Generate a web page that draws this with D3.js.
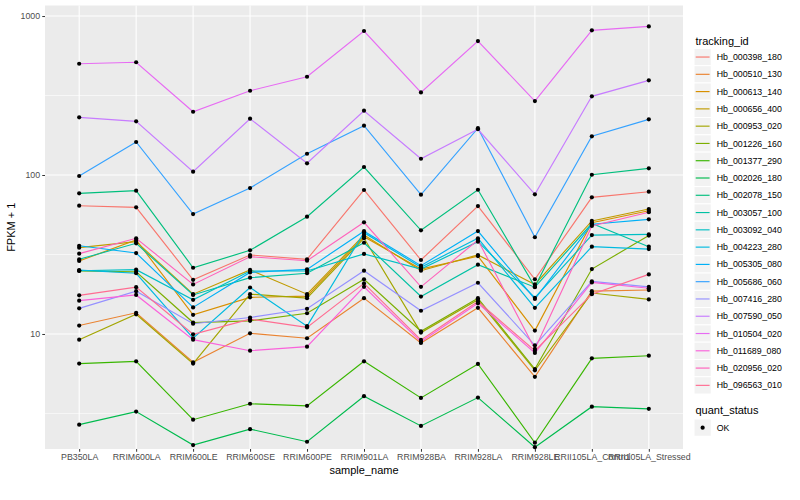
<!DOCTYPE html>
<html><head><meta charset="utf-8">
<script src="https://cdn.jsdelivr.net/npm/d3@7"></script>
<style>
body{margin:0;background:#fff}
text{font-family:"Liberation Sans",Arial,Helvetica,sans-serif}
</style>
</head><body>
<svg id="chart" width="800" height="500"></svg>
<script>
// ---------- data ----------
const samples = ["PB350LA","RRIM600LA","RRIM600LE","RRIM600SE","RRIM600PE","RRIM901LA","RRIM928BA","RRIM928LA","RRIM928LE","RRII105LA_Control","RRII105LA_Stressed"];
const trackingIds = ["Hb_000398_180","Hb_000510_130","Hb_000613_140","Hb_000656_400","Hb_000953_020","Hb_001226_160","Hb_001377_290","Hb_002026_180","Hb_002078_150","Hb_003057_100","Hb_003092_040","Hb_004223_280","Hb_005305_080","Hb_005686_060","Hb_007416_280","Hb_007590_050","Hb_010504_020","Hb_011689_080","Hb_020956_020","Hb_096563_010"];
const hb_000398_180 = [64.1, 62.6, 21.9, 31.4, 29.5, 80.5, 29.2, 63.8, 22.1, 72.4, 78.5];
const hb_000510_130 = [11.3, 13.6, 6.64, 10.1, 9.40, 16.8, 8.78, 14.6, 5.38, 18.6, 18.9];
const hb_000613_140 = [28.8, 39.0, 13.2, 17.0, 17.3, 40.9, 25.6, 30.9, 10.5, 50.1, 59.6];
const hb_000656_400 = [34.9, 38.1, 17.8, 25.3, 17.8, 41.9, 25.0, 31.4, 20.5, 51.4, 61.1];
const hb_000953_020 = [9.21, 13.3, 6.51, 17.8, 16.8, 40.0, 10.2, 16.4, 5.91, 18.1, 16.5];
const hb_001226_160 = [24.9, 24.6, 11.8, 12.1, 13.5, 22.1, 10.4, 16.8, 6.02, 25.6, 41.6];
const hb_001377_290 = [6.51, 6.73, 2.89, 3.64, 3.53, 6.73, 3.96, 6.48, 2.07, 7.03, 7.30];
const hb_002026_180 = [2.69, 3.25, 2.00, 2.52, 2.10, 4.06, 2.64, 3.98, 1.94, 3.49, 3.38];
const hb_002078_150 = [76.7, 79.7, 26.1, 33.6, 54.7, 112.3, 44.9, 80.8, 19.8, 100.4, 110.2];
const hb_003057_100 = [29.5, 37.2, 17.6, 22.6, 24.1, 37.5, 17.2, 27.3, 19.7, 49.5, 35.4];
const hb_003092_040 = [25.0, 25.4, 16.4, 24.9, 24.9, 31.9, 25.6, 38.1, 16.9, 41.9, 42.3];
const hb_004223_280 = [25.2, 24.1, 9.40, 19.6, 11.2, 43.4, 26.3, 40.0, 14.6, 35.4, 34.2];
const hb_005305_080 = [35.9, 32.3, 14.7, 24.4, 25.5, 44.3, 26.9, 44.4, 16.6, 49.0, 52.6];
const hb_005686_060 = [98.6, 161.3, 56.8, 82.8, 136.1, 204.2, 75.2, 197, 40.6, 175.2, 224];
const hb_007416_280 = [14.5, 18.6, 11.6, 12.7, 14.4, 25.0, 14.0, 21.0, 8.49, 21.4, 19.8];
const hb_007590_050 = [230.6, 217.6, 104.9, 226, 118.5, 253.8, 126.6, 194, 75.6, 312.6, 394];
const hb_010504_020 = [501, 512, 250, 339, 415, 805, 331, 696, 292, 813, 861];
const hb_011689_080 = [16.2, 17.6, 9.21, 7.85, 8.32, 19.8, 8.95, 15.6, 7.60, 21.1, 19.4];
const hb_020956_020 = [32.0, 40.0, 20.5, 30.6, 28.9, 50.4, 19.8, 39.0, 8.05, 47.8, 58.3];
const hb_096563_010 = [17.5, 19.7, 9.96, 12.4, 11.0, 20.8, 9.17, 16.0, 7.85, 17.8, 23.7];
const yTicks = [10, 100, 1000];
const yTickLabels = ["10", "100", "1000"];
const yLimits = [1.89, 1165];
const quantLevels = ["OK"];

const seriesValues = [hb_000398_180, hb_000510_130, hb_000613_140, hb_000656_400, hb_000953_020,
  hb_001226_160, hb_001377_290, hb_002026_180, hb_002078_150, hb_003057_100, hb_003092_040,
  hb_004223_280, hb_005305_080, hb_005686_060, hb_007416_280, hb_007590_050, hb_010504_020,
  hb_011689_080, hb_020956_020, hb_096563_010];

// ---------- styles ----------
const palette = ["#F8766D","#EA8331","#D89000","#C09B00","#A3A500","#7CAE00","#39B600","#00BB4E","#00BF7D","#00C1A3","#00BFC4","#00BAE0","#00B0F6","#35A2FF","#9590FF","#C77CFF","#E76BF3","#FA62DB","#FF62BC","#FF6C91"];
const panel = {left: 45, right: 683, top: 5.5, bottom: 449};

const series = trackingIds.map((id, i) => ({id, values: samples.map((s, j) => ({sample: s, value: seriesValues[i][j]}))}));

const svg = d3.select("#chart");
svg.append("rect").attr("width", 800).attr("height", 500).attr("fill", "#fff");

const x = d3.scalePoint().domain(samples).range([panel.left, panel.right]).padding(0.6);
const y = d3.scaleLog().domain(yLimits).range([panel.bottom, panel.top]);
const color = d3.scaleOrdinal().domain(trackingIds).range(palette);

// panel
svg.append("rect").attr("x", panel.left).attr("y", panel.top)
  .attr("width", panel.right - panel.left).attr("height", panel.bottom - panel.top).attr("fill", "#EBEBEB");
const minor = [Math.pow(10, 0.5), Math.pow(10, 1.5), Math.pow(10, 2.5)];
svg.append("g").selectAll("line").data(minor).join("line")
  .attr("x1", panel.left).attr("x2", panel.right).attr("y1", d => y(d)).attr("y2", d => y(d))
  .attr("stroke", "#fff").attr("stroke-width", 0.6);
svg.append("g").selectAll("line").data(yTicks).join("line")
  .attr("x1", panel.left).attr("x2", panel.right).attr("y1", d => y(d)).attr("y2", d => y(d))
  .attr("stroke", "#fff").attr("stroke-width", 1.1);
svg.append("g").selectAll("line").data(samples).join("line")
  .attr("x1", d => x(d)).attr("x2", d => x(d)).attr("y1", panel.top).attr("y2", panel.bottom)
  .attr("stroke", "#fff").attr("stroke-width", 1.1);

// lines
const line = d3.line().x(d => x(d.sample)).y(d => y(d.value));
svg.append("g").selectAll("path").data(series).join("path")
  .attr("d", d => line(d.values)).attr("fill", "none")
  .attr("stroke", d => color(d.id)).attr("stroke-width", 1.15);
// points
svg.append("g").selectAll("circle").data(series.flatMap(s => s.values)).join("circle")
  .attr("cx", d => x(d.sample)).attr("cy", d => y(d.value)).attr("r", 2.1).attr("fill", "#000");

// axes
const yAxis = d3.axisLeft(y).tickValues(yTicks).tickFormat((d, i) => yTickLabels[i]).tickSize(2.75).tickPadding(2.2);
const gy = svg.append("g").attr("transform", `translate(${panel.left},0)`).call(yAxis);
gy.select(".domain").remove();
gy.selectAll("line").attr("stroke", "#333333").attr("stroke-width", 1);
gy.selectAll("text").attr("fill", "#4D4D4D").style("font-size", "8.8px");

const xAxis = d3.axisBottom(x).tickSize(2.75).tickPadding(2.2);
const gx = svg.append("g").attr("transform", `translate(0,${panel.bottom})`).call(xAxis);
gx.select(".domain").remove();
gx.selectAll("line").attr("stroke", "#333333").attr("stroke-width", 1);
gx.selectAll("text").attr("fill", "#4D4D4D").style("font-size", "8.8px");

// axis titles
svg.append("text").attr("x", (panel.left + panel.right) / 2).attr("y", 474)
  .attr("text-anchor", "middle").style("font-size", "11px").attr("fill", "#000").text("sample_name");
svg.append("text").attr("transform", `translate(15,${(panel.top + panel.bottom) / 2}) rotate(-90)`)
  .attr("text-anchor", "middle").style("font-size", "11px").attr("fill", "#000").text("FPKM + 1");

// legend: tracking_id
const lg = svg.append("g").attr("transform", "translate(694,0)");
lg.append("text").attr("x", 1.5).attr("y", 44.5).style("font-size", "11px").attr("fill", "#000").text("tracking_id");
const keyH = 17.28, key0 = 48.4;
const items = lg.selectAll("g.item").data(trackingIds).join("g").attr("class", "item")
  .attr("transform", (d, i) => `translate(0,${key0 + i * keyH})`);
items.append("rect").attr("width", keyH).attr("height", keyH).attr("fill", "#F2F2F2").attr("stroke", "#fff").attr("stroke-width", 1);
items.append("line").attr("x1", 1.7).attr("x2", keyH - 1.7).attr("y1", keyH / 2).attr("y2", keyH / 2)
  .attr("stroke", d => color(d)).attr("stroke-width", 1.15);
items.append("text").attr("x", keyH + 5.5).attr("y", keyH / 2).attr("dy", "0.35em")
  .style("font-size", "8.8px").attr("fill", "#000").text(d => d);

// legend: quant_status
const qg = svg.append("g").attr("transform", "translate(694,0)");
qg.append("text").attr("x", 1.5).attr("y", 414).style("font-size", "11px").attr("fill", "#000").text("quant_status");
const qItems = qg.selectAll("g.q").data(quantLevels).join("g").attr("class", "q")
  .attr("transform", (d, i) => `translate(0,${419 + i * keyH})`);
qItems.append("rect").attr("width", keyH).attr("height", keyH).attr("fill", "#F2F2F2").attr("stroke", "#fff");
qItems.append("circle").attr("cx", keyH / 2).attr("cy", keyH / 2).attr("r", 2.1).attr("fill", "#000");
qItems.append("text").attr("x", keyH + 5.5).attr("y", keyH / 2).attr("dy", "0.35em")
  .style("font-size", "8.8px").attr("fill", "#000").text(d => d);
</script>
</body></html>
